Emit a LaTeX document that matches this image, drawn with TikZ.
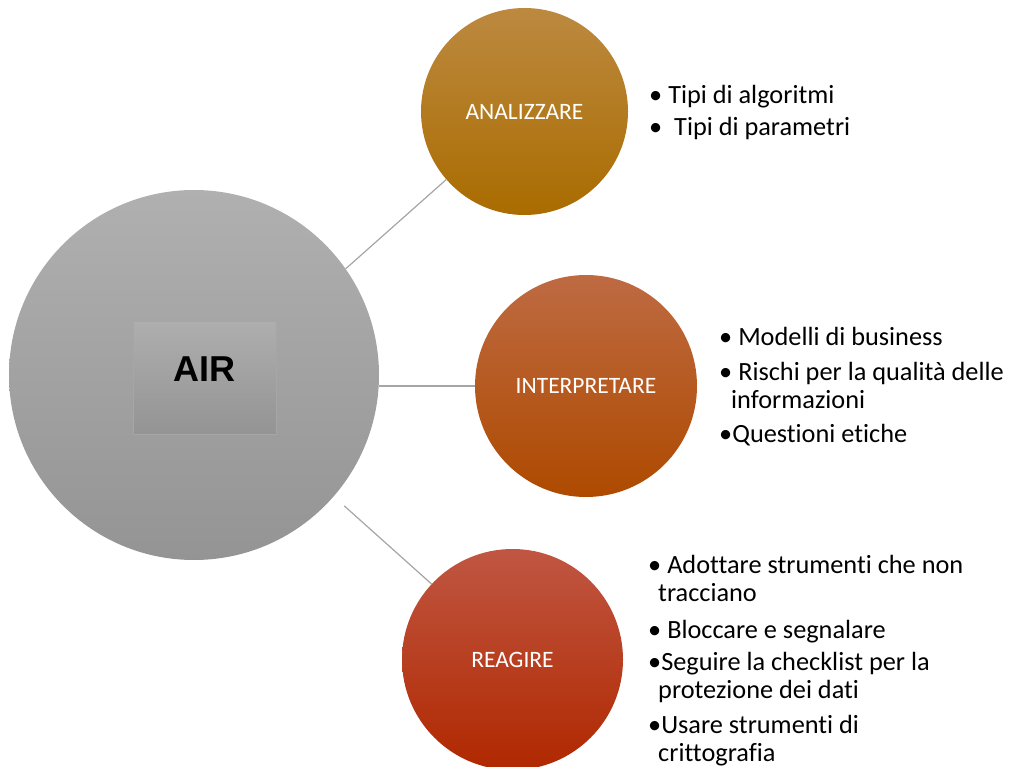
\documentclass[tikz,border=0pt]{standalone}
\usepackage{fontspec}
\setmainfont{Carlito}[Ligatures={NoCommon}]
\newfontfamily\airfont{Liberation Sans}
\definecolor{bigtop}{RGB}{176,176,176}
\definecolor{bigbot}{RGB}{148,148,148}
\definecolor{anatop}{RGB}{188,137,64}
\definecolor{anabot}{RGB}{170,108,0}
\definecolor{inttop}{RGB}{190,106,66}
\definecolor{intbot}{RGB}{174,74,0}
\definecolor{reatop}{RGB}{192,86,66}
\definecolor{reabot}{RGB}{176,40,0}
\definecolor{sqtop}{RGB}{174,174,174}
\definecolor{sqbot}{RGB}{148,148,148}
\definecolor{sqline}{RGB}{166,166,166}
\definecolor{connc}{RGB}{165,165,165}
\tikzset{
  bubble/.style={circle, inner sep=0pt, text=white, font=\fontsize{23.5}{28}\selectfont},
  conn/.style={draw=connc, line width=1.2pt},
  txt/.style={anchor=base west, inner sep=0pt, text=black, font=\fontsize{26.3}{31}\selectfont},
}
\begin{document}
\begin{tikzpicture}[x=1pt,y=-1pt]
\useasboundingbox (0,0) rectangle (1011,767);
\node[bubble, minimum size=370pt, top color=bigtop, bottom color=bigbot] (big) at (194,375) {};
\node[draw=sqline, line width=0.8pt, minimum width=143pt, minimum height=113pt, inner sep=0pt,
      top color=sqtop, bottom color=sqbot] (air) at (204.5,377.5) {};
\node[inner sep=0pt, font=\airfont\bfseries\fontsize{36}{40}\selectfont] (airtxt) at (204.5,369) {AIR};
\node[bubble, minimum size=207pt, top color=anatop, bottom color=anabot] (ana) at (524.5,111.5) {ANALIZZARE};
\node[bubble, minimum size=222pt, top color=inttop, bottom color=intbot] (int) at (586,386) {INTERPRETARE};
\node[bubble, minimum size=221pt, top color=reatop, bottom color=reabot] (rea) at (512.5,659.5) {REAGIRE};
\draw[conn] (big.35) -- (ana.221.6);
\draw[conn] (int.west -| big.east) -- (int.west);
\draw[conn, shorten <=14pt] (big.-41) -- (rea.137);
% block 1
\node[txt] (a1) at (649,104) {• Tipi di algoritmi};
\node[txt] (a2) at (649,136) {•\ \ Tipi di parametri};
% block 2
\node[txt] (b1) at (719,345) {• Modelli di business};
\node[txt] (b2) at (719,380) {• Rischi per la qualità delle};
\node[txt] (b3) at (731,408) {informazioni};
\node[txt] (b4) at (719,442) {•Questioni etiche};
% block 3
\node[txt] (c1) at (648,573) {• Adottare strumenti che non};
\node[txt] (c2) at (658,601) {tracciano};
\node[txt] (c3) at (648,638) {• Bloccare e segnalare};
\node[txt] (c4) at (648,670) {•Seguire la checklist per la};
\node[txt] (c5) at (658,698) {protezione dei dati};
\node[txt] (c6) at (648,733) {•Usare strumenti di};
\node[txt] (c7) at (658,761) {crittografia};
\end{tikzpicture}
\end{document}
